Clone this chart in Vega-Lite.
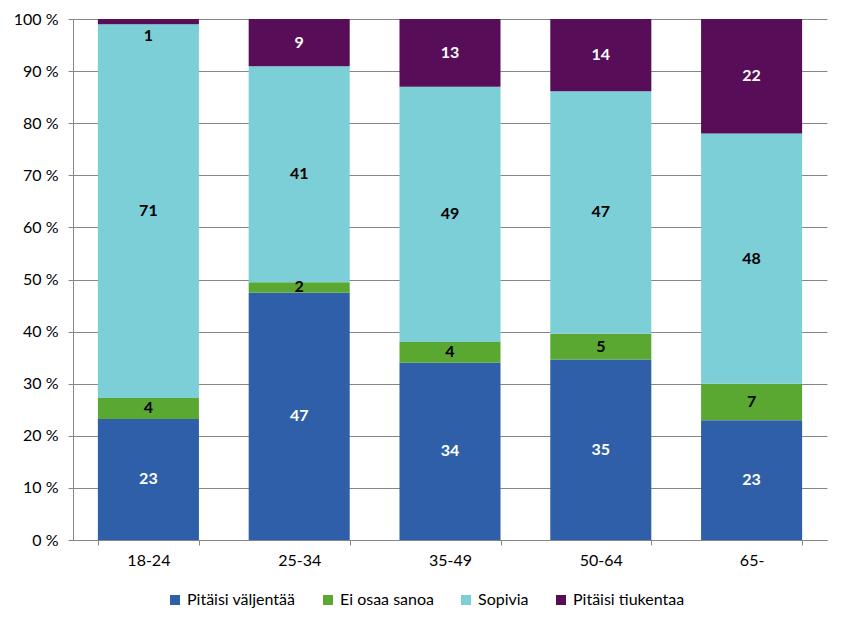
{
  "$schema": "https://vega.github.io/schema/vega-lite/v6.json",
  "width": 754,
  "height": 521,
  "autosize": {"type": "none"},
  "padding": {"left": 73, "top": 19, "right": 19, "bottom": 88},
  "background": "white",
  "config": {
    "font": "Lato",
    "view": {"stroke": null},
    "axis": {
      "labelFont": "Lato",
      "labelFontSize": 16,
      "labelColor": "#000000",
      "domainColor": "#868686",
      "tickColor": "#868686",
      "gridColor": "#868686",
      "tickSize": 5,
      "title": null
    }
  },
  "data": {
    "values": [
      {"age": "18-24", "series": "Pitäisi väljentää", "order": 1, "value": 23},
      {"age": "18-24", "series": "Ei osaa sanoa", "order": 2, "value": 4},
      {"age": "18-24", "series": "Sopivia", "order": 3, "value": 71},
      {"age": "18-24", "series": "Pitäisi tiukentaa", "order": 4, "value": 1},
      {"age": "25-34", "series": "Pitäisi väljentää", "order": 1, "value": 47},
      {"age": "25-34", "series": "Ei osaa sanoa", "order": 2, "value": 2},
      {"age": "25-34", "series": "Sopivia", "order": 3, "value": 41},
      {"age": "25-34", "series": "Pitäisi tiukentaa", "order": 4, "value": 9},
      {"age": "35-49", "series": "Pitäisi väljentää", "order": 1, "value": 34},
      {"age": "35-49", "series": "Ei osaa sanoa", "order": 2, "value": 4},
      {"age": "35-49", "series": "Sopivia", "order": 3, "value": 49},
      {"age": "35-49", "series": "Pitäisi tiukentaa", "order": 4, "value": 13},
      {"age": "50-64", "series": "Pitäisi väljentää", "order": 1, "value": 35},
      {"age": "50-64", "series": "Ei osaa sanoa", "order": 2, "value": 5},
      {"age": "50-64", "series": "Sopivia", "order": 3, "value": 47},
      {"age": "50-64", "series": "Pitäisi tiukentaa", "order": 4, "value": 14},
      {"age": "65-", "series": "Pitäisi väljentää", "order": 1, "value": 23},
      {"age": "65-", "series": "Ei osaa sanoa", "order": 2, "value": 7},
      {"age": "65-", "series": "Sopivia", "order": 3, "value": 48},
      {"age": "65-", "series": "Pitäisi tiukentaa", "order": 4, "value": 22}
    ]
  },
  "transform": [
    {"stack": "value", "groupby": ["age"], "sort": [{"field": "order"}], "offset": "normalize", "as": ["v0", "v1"]},
    {"calculate": "datum.v1 - datum.v0 < 0.02 ? datum.v0 - 0.022 : (datum.v0 + datum.v1) / 2", "as": "mid"}
  ],
  "encoding": {
    "x": {
      "field": "age",
      "type": "nominal",
      "sort": ["18-24", "25-34", "35-49", "50-64", "65-"],
      "scale": {"paddingInner": 0.33, "paddingOuter": 0.165},
      "axis": {"labelAngle": 0, "tickBand": "extent", "labelPadding": 7, "grid": false}
    }
  },
  "layer": [
    {
      "mark": {"type": "bar"},
      "encoding": {
        "y": {
          "field": "v0",
          "type": "quantitative",
          "scale": {"domain": [0, 1]},
          "axis": {
            "values": [0, 0.1, 0.2, 0.3, 0.4, 0.5, 0.6, 0.7, 0.8, 0.9, 1],
            "labelExpr": "round(datum.value * 100) + ' %'",
            "grid": true,
            "labelPadding": 10
          }
        },
        "y2": {"field": "v1"},
        "color": {
          "field": "series",
          "type": "nominal",
          "sort": ["Pitäisi väljentää", "Ei osaa sanoa", "Sopivia", "Pitäisi tiukentaa"],
          "scale": {
            "domain": ["Pitäisi väljentää", "Ei osaa sanoa", "Sopivia", "Pitäisi tiukentaa"],
            "range": ["#2E5FA8", "#5AA832", "#7CCFD7", "#570D57"]
          },
          "legend": {
            "title": null,
            "orient": "none",
            "direction": "horizontal",
            "legendX": 94,
            "legendY": 573,
            "symbolType": "square",
            "symbolSize": 100,
            "symbolStrokeWidth": 0,
            "labelFontSize": 16,
            "labelFont": "Lato",
            "labelColor": "#000000",
            "labelOffset": 4,
            "columnPadding": 24
          }
        }
      }
    },
    {
      "mark": {"type": "text", "fontWeight": "bold", "fontSize": 16, "baseline": "middle", "align": "center"},
      "encoding": {
        "y": {"field": "mid", "type": "quantitative"},
        "text": {"field": "value", "type": "quantitative"},
        "color": {
          "condition": {"test": "datum.series === 'Pitäisi väljentää' || (datum.series === 'Pitäisi tiukentaa' && datum.value >= 3)", "value": "#FFFFFF"},
          "value": "#000000"
        }
      }
    }
  ]
}
